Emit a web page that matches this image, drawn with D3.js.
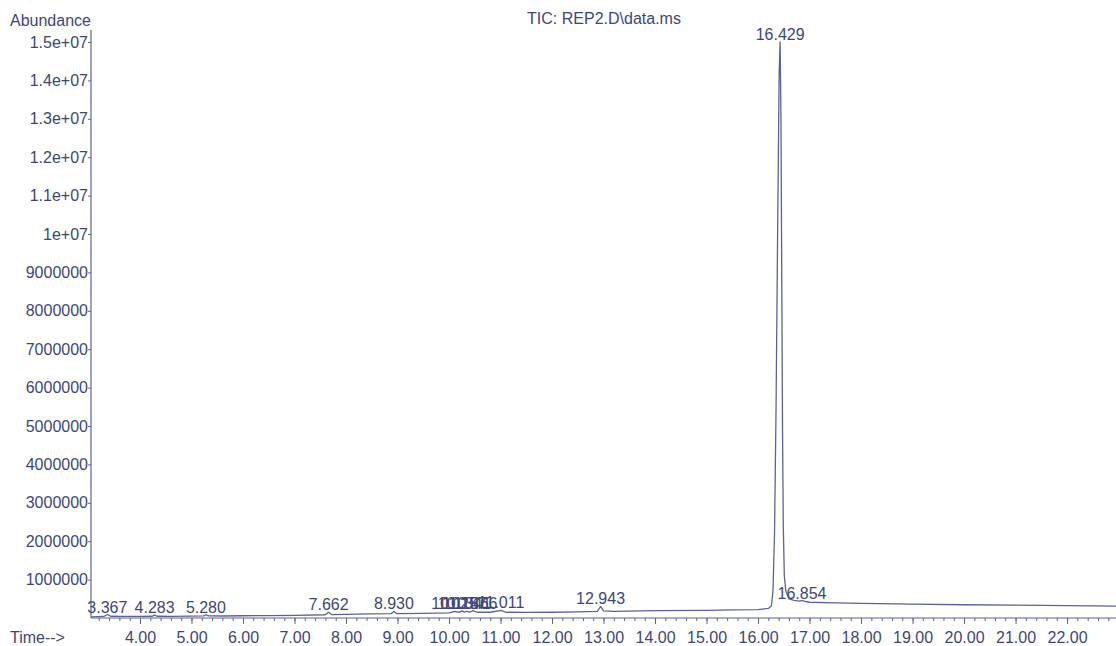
<!DOCTYPE html>
<html>
<head>
<meta charset="utf-8">
<script src="https://cdn.jsdelivr.net/npm/d3@7/dist/d3.min.js"></script>
<style>
  html, body { margin: 0; padding: 0; background: #ffffff; }
  svg { display: block; }
  text { font-family: "Liberation Sans", Arial, sans-serif; }
</style>
</head>
<body>
<svg id="chart" width="1116" height="646"></svg>
<script>
// Total ion chromatogram, retention time (min) vs abundance
const titleText = "TIC: REP2.D\\data.ms";

const retentionTimes = [
  3.05, 3.30, 3.367, 3.43, 3.60, 4.00, 4.24, 4.283, 4.33, 4.60, 5.00, 5.24, 5.280, 5.33,
  5.60, 6.00, 6.50, 7.00, 7.60, 7.662, 7.72, 8.00, 8.50, 8.88, 8.930, 8.98, 9.50, 10.00,
  10.118, 10.19, 10.257, 10.30, 10.341, 10.40, 10.466, 10.55, 10.80, 11.011, 11.10, 11.50,
  12.00, 12.50, 12.88, 12.943, 13.00, 13.20, 14.00, 15.00, 15.50, 16.00, 16.20, 16.26,
  16.29, 16.32, 16.35, 16.38, 16.41, 16.429, 16.445, 16.46, 16.475, 16.49, 16.51, 16.54,
  16.60, 16.70, 16.80, 16.854, 16.92, 17.00, 17.50, 18.00, 19.00, 20.00, 21.00, 22.00, 22.95
];

// abundance in counts
const abundance = [
  30000, 40000, 90000, 45000, 40000, 40000, 45000, 75000, 45000, 42000, 48000, 55000, 85000, 55000,
  52000, 58000, 62000, 70000, 85000, 150000, 90000, 95000, 105000, 115000, 170000, 115000, 120000, 135000,
  175000, 145000, 185000, 150000, 175000, 150000, 190000, 150000, 150000, 200000, 150000, 145000,
  150000, 160000, 170000, 300000, 185000, 175000, 190000, 200000, 210000, 220000, 250000, 320000,
  700000, 2200000, 5500000, 10000000, 14200000, 15000000, 13000000, 9000000, 5000000, 2400000, 1100000, 700000,
  500000, 460000, 440000, 450000, 430000, 410000, 395000, 380000, 360000, 345000, 335000, 320000, 310000
];

const peakTimes = [3.367, 4.283, 5.280, 7.662, 8.930, 10.118, 10.257, 10.341, 10.466, 11.011, 12.943, 16.429, 16.854];

const xMajorTicks = [4, 5, 6, 7, 8, 9, 10, 11, 12, 13, 14, 15, 16, 17, 18, 19, 20, 21, 22];
const yTickValues = [1000000, 2000000, 3000000, 4000000, 5000000, 6000000, 7000000, 8000000,
  9000000, 10000000, 11000000, 12000000, 13000000, 14000000, 15000000];
const yTickLabels = ["1000000", "2000000", "3000000", "4000000", "5000000", "6000000", "7000000", "8000000",
  "9000000", "1e+07", "1.1e+07", "1.2e+07", "1.3e+07", "1.4e+07", "1.5e+07"];

const textColor = "#3e4677";
const lineColor = "#5d6390";

const svg = d3.select("#chart");

const x = d3.scaleLinear().domain([3.049, 22.95]).range([91, 1116]);
const y = d3.scaleLinear().domain([0, 15000000]).range([618, 42]);

// Title and axis captions
svg.append("text")
  .attr("x", 604).attr("y", 24)
  .attr("text-anchor", "middle")
  .attr("font-size", 16)
  .attr("fill", textColor)
  .text(titleText);

svg.append("text")
  .attr("x", 10).attr("y", 26)
  .attr("font-size", 16)
  .attr("fill", textColor)
  .text("Abundance");

svg.append("text")
  .attr("x", 10).attr("y", 643)
  .attr("font-size", 16)
  .attr("fill", textColor)
  .text("Time-->");

// Y axis
const yAxis = d3.axisLeft(y)
  .tickValues(yTickValues)
  .tickFormat((d, i) => yTickLabels[i])
  .tickSize(3)
  .tickPadding(0);

const gy = svg.append("g").attr("transform", "translate(91,0)").call(yAxis);
gy.select(".domain").remove();
gy.selectAll(".tick line").attr("stroke", lineColor);
gy.selectAll(".tick text")
  .attr("font-size", 16)
  .attr("font-family", "Liberation Sans, Arial, sans-serif")
  .attr("fill", textColor);

svg.append("line")
  .attr("x1", 91).attr("x2", 91)
  .attr("y1", 30).attr("y2", 618)
  .attr("stroke", lineColor).attr("stroke-width", 1.2);

// X axis: minor ticks every 0.2 min, labelled ticks every minute
const minorTicks = d3.range(3.2, 22.95, 0.2).map(v => +v.toFixed(1));
const gxMinor = svg.append("g").attr("transform", "translate(0,618)")
  .call(d3.axisBottom(x).tickValues(minorTicks).tickFormat("").tickSize(3));
gxMinor.select(".domain").remove();
gxMinor.selectAll(".tick line").attr("stroke", lineColor);

const gx = svg.append("g").attr("transform", "translate(0,618)")
  .call(d3.axisBottom(x).tickValues(xMajorTicks).tickFormat(d3.format(".2f")).tickSize(6).tickPadding(8));
gx.select(".domain").remove();
gx.selectAll(".tick line").attr("stroke", lineColor);
gx.selectAll(".tick text")
  .attr("font-size", 16)
  .attr("font-family", "Liberation Sans, Arial, sans-serif")
  .attr("fill", textColor);

svg.append("line")
  .attr("x1", 91).attr("x2", 1116)
  .attr("y1", 618).attr("y2", 618)
  .attr("stroke", lineColor).attr("stroke-width", 1.2);

// Chromatogram trace
const points = retentionTimes.map((t, i) => [t, abundance[i]]);
const line = d3.line().x(d => x(d[0])).y(d => y(d[1]));

svg.append("path")
  .datum(points)
  .attr("d", line)
  .attr("fill", "none")
  .attr("stroke", lineColor)
  .attr("stroke-width", 1.3)
  .attr("stroke-linejoin", "round");

// Retention-time labels above integrated peaks
const peakData = peakTimes.map(t => ({ t, v: abundance[retentionTimes.indexOf(t)] }));

svg.append("g").selectAll("text")
  .data(peakData)
  .join("text")
  .attr("x", d => x(d.t))
  .attr("y", d => y(d.v) - 2)
  .attr("text-anchor", "middle")
  .attr("font-size", 16)
  .attr("fill", textColor)
  .text(d => d.t.toFixed(3));
</script>
</body>
</html>
